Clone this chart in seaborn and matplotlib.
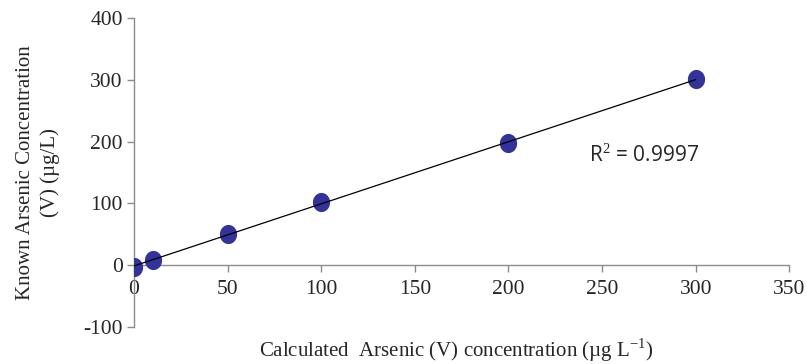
import numpy as np
import pandas as pd
import matplotlib
matplotlib.use('Agg')
import matplotlib.pyplot as plt
import matplotlib.ticker as mticker
from matplotlib.path import Path
import seaborn as sns

# calibration data
calculated = [0, 10, 50, 100, 200, 300]
known = [-3, 9, 50, 102, 197, 301]
r2_label = 'R$^2$ = 0.9997'

df = pd.DataFrame({'calculated': calculated, 'known': known})

sns.set_style('white')
plt.rcParams['font.family'] = ['Liberation Serif', 'DejaVu Serif']
plt.rcParams['mathtext.fontset'] = 'custom'
plt.rcParams['mathtext.rm'] = 'Liberation Serif'

# slightly tall ellipse marker like the original
t = np.linspace(0, 2 * np.pi, 60)
ellipse = Path(np.column_stack([0.9 * np.cos(t), np.sin(t)]), closed=True)

fig = plt.figure(figsize=(8.07, 3.64), dpi=100)
ax = fig.add_axes([0.166, 0.1016, 0.812, 0.849])

sns.regplot(data=df, x='calculated', y='known', ax=ax, ci=None, marker=ellipse,
            scatter_kws={'s': 190, 'color': '#333399', 'alpha': 1, 'linewidths': 0, 'zorder': 3},
            line_kws={'color': 'black', 'linewidth': 0.9, 'zorder': 4})

ax.set_xlim(0, 350)
ax.set_ylim(-100, 400)
ax.set_xticks(range(0, 351, 50))
ax.set_yticks(range(-100, 401, 100))
ax.yaxis.set_major_formatter(mticker.FuncFormatter(lambda v, _: f'{v:.0f}'))

ax.spines['top'].set_visible(False)
ax.spines['right'].set_visible(False)
ax.spines['bottom'].set_position(('data', 0))
for s in ['left', 'bottom']:
    ax.spines[s].set_color('#8c8c8c')
    ax.spines[s].set_linewidth(1.0)
ax.tick_params(axis='both', which='major', direction='out', length=5, width=1,
               color='#8c8c8c', labelsize=15.5, pad=3, left=True, bottom=True)
ax.tick_params(axis='x', pad=6)

ax.set_xlabel('')
ax.set_ylabel('Known Arsenic Concentration\n(V) (\u00b5g/L)', fontsize=15, linespacing=1.35, labelpad=17)
fig.text(0.566, 0.038, 'Calculated  Arsenic (V) concentration (\u00b5g L$^{-1}$)',
         ha='center', va='center', fontsize=15)

ax.text(243, 177, r2_label, fontsize=15, family=['Open Sans', 'DejaVu Sans'],
        ha='left', va='center')

fig.savefig('out.png', dpi=100)
